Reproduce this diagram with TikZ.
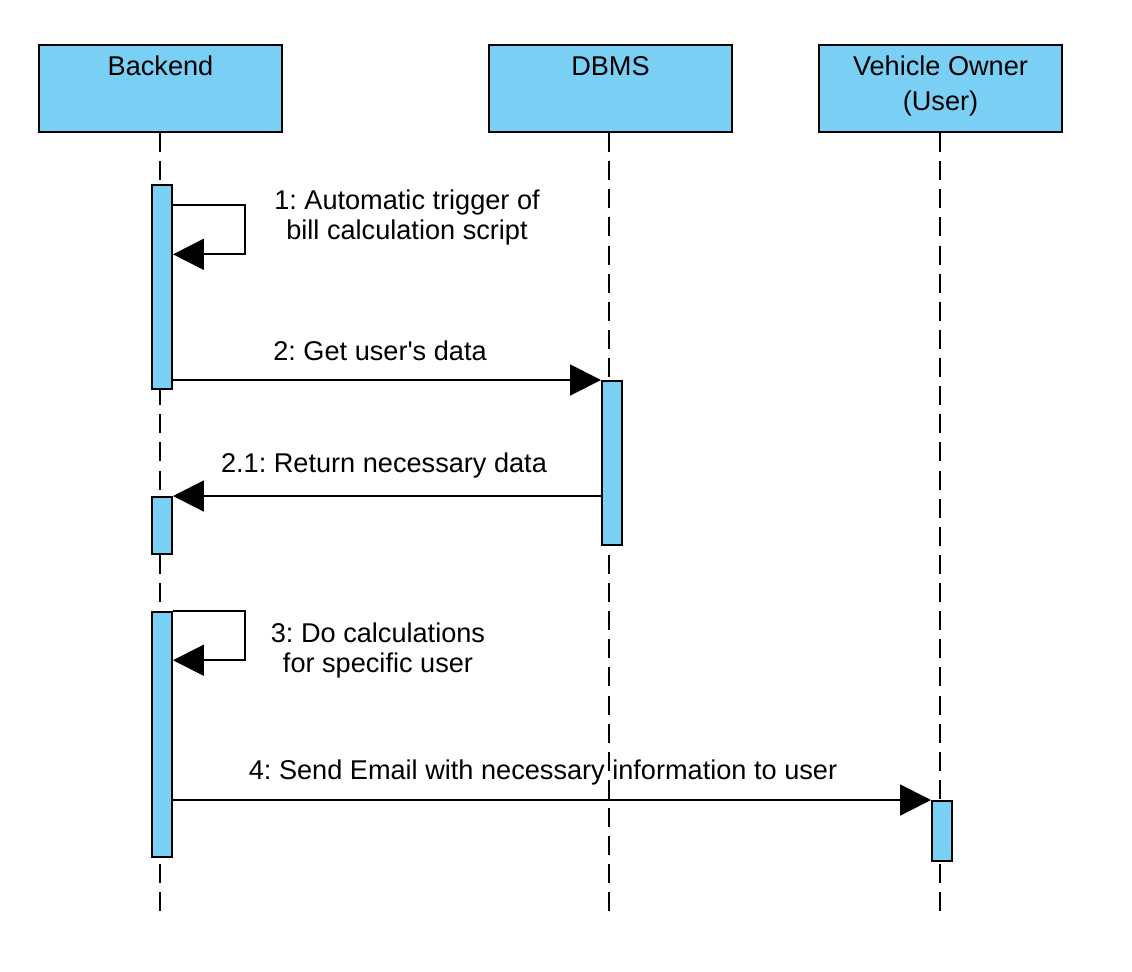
\documentclass[tikz,border=0pt]{standalone}
\usepackage{fontspec}
\setmainfont{Liberation Sans}
\usepackage{tikz}
\usetikzlibrary{arrows.meta, fit}
\definecolor{barblue}{RGB}{122,207,245}
\frenchspacing
\tikzset{
    actor/.style={draw=black, fill=barblue, line width=1.6pt, inner sep=0pt},
    bar/.style={draw=black, fill=barblue, line width=1.4pt, inner sep=0pt},
    life/.style={line width=1.4pt, dash pattern=on 13.5pt off 6.5pt},
    msg/.style={line width=1.4pt, -{Triangle[length=22pt, width=22pt]}},
    txt/.style={font=\fontsize{19.3}{21}\selectfont, align=center, inner sep=0pt, anchor=north}}

\begin{document}
\begin{tikzpicture}[x=0.025cm, y=-0.025cm]
        \useasboundingbox (0,0) rectangle (1132,972);

            \node[actor, fit={(39,45) (282,132)}] (B) {};
            \node[actor, fit={(489,45) (732,132)}] (D) {};
            \node[actor, fit={(819,45) (1062,132)}] (V) {};
            \node[txt] (Bt) at ([yshift=-8.5pt]B.north) {Backend};
            \node[txt] (Dt) at ([yshift=-8.5pt]D.north) {DBMS};
            \node[txt] (Vt) at ([yshift=-8.5pt]V.north) {Vehicle Owner\\[4pt](User)};

            \coordinate (Bend) at (160,912);
            \coordinate (Dend) at (609,912);
            \coordinate (Vend) at (940,912);
            \draw[life] (B.south -| Bend) -- (Bend);
            \draw[life] (D.south -| Dend) -- (Dend);
            \draw[life] (V.south -| Vend) -- (Vend);

            \node[bar, fit={(152,185) (172,389)}] (B1) {};
            \node[bar, fit={(152,497) (172,554)}] (B2) {};
            \node[bar, fit={(152,612) (172,857)}] (B3) {};
            \node[bar, fit={(602,381) (622,545)}] (D1) {};
            \node[bar, fit={(932,801) (952,861)}] (V1) {};

            \draw[msg] ([yshift=-15pt]B1.north east) -- ++(72,0) |- ([yshift=-50pt]B1.north east);
            \draw[msg] (B1.east |- D1.north west) -- (D1.north west);
            \draw[msg] (D1.west |- B2.north east) -- (B2.north east);
            \draw[msg] (B3.north east) -- ++(72,0) |- ([yshift=-35pt]B3.north east);
            \draw[msg] (B3.east |- V1.north west) -- (V1.north west);

            \node[txt] (m1) at (407,190) {1: Automatic trigger of\\bill calculation script};
            \node[txt] (m2) at (380,341) {2: Get user\textquotesingle s data};
            \node[txt] (m21) at (384,453) {2.1: Return necessary data};
            \node[txt] (m3) at (378,623) {3: Do calculations\\for specific user};
            \node[txt] (m4) at (543,760) {4: Send Email with necessary information to user};

        \end{tikzpicture}
\end{document}
